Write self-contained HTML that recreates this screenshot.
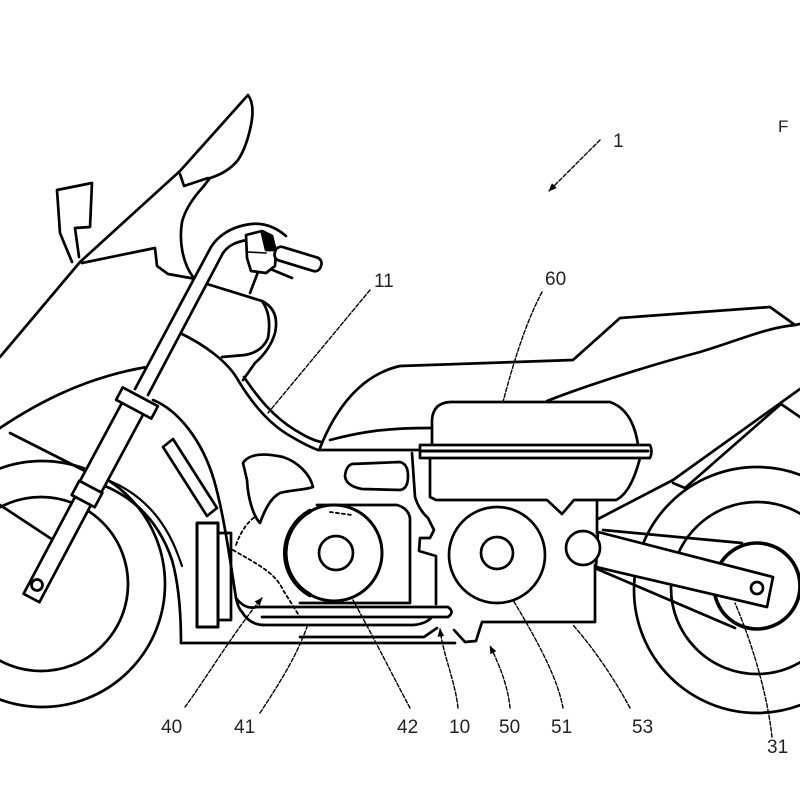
<!DOCTYPE html>
<html><head><meta charset="utf-8">
<style>html,body{margin:0;padding:0;background:#fff}svg{display:block}</style>
</head>
<body>
<svg xmlns="http://www.w3.org/2000/svg" width="800" height="800" viewBox="0 0 800 800">
<defs>
<marker id="ah" viewBox="0 0 10 10" refX="9" refY="5" markerWidth="6" markerHeight="6" orient="auto"><path d="M0,1 L10,5 L0,9 Z" fill="#000"/></marker>
</defs>
<rect width="800" height="800" fill="#fff"/>
<g fill="none" stroke="#000" stroke-width="2.7" stroke-linejoin="round" stroke-linecap="round">
<!-- rear wheel -->
<circle cx="757" cy="590" r="123"/>
<circle cx="757" cy="588" r="86"/>
<circle cx="757" cy="586" r="43" stroke-width="3.6"/>
<!-- front wheel -->
<circle cx="42" cy="584" r="123"/>
<circle cx="41" cy="584" r="87"/>
<path d="M0,505 L53,540"/>

<!-- windscreen & fairing -->
<path d="M80,262 L180,171 L248,95 C254,103 253,115 251,125 C248,140 244,151 238,160 C230,170 220,175 210,178 L203,187 C193,198 185,210 182,222 C179,240 182,262 193,277"/>
<path d="M180,174 L184,186 L208,178"/>
<path d="M82,263 L155,248 L157,266 L168,274 L196,279"/>
<path d="M72,262 L60,233 L57,190 L92,183 L90,227 L75,228 L79,257"/>
<path d="M80,262 L0,357"/>
<path d="M0,428 C30,408 80,378 147,367"/>
<path d="M10,433 L87,472"/>

<!-- front body -->
<path d="M153,400 C178,410 202,440 214,480 C224,515 230,560 236,598 Q238,608 242,612"/>
<path d="M105,486 C138,500 160,525 172,560 C179,585 181,615 181,643"/>
<path d="M110,481 C143,495 165,520 178,555 C180,560 181,563 182,566" stroke-width="2.2"/>
<path d="M163,447 L173,439 L217,508 L207,516 Z"/>
<rect x="197" y="523" width="21" height="104" stroke-width="3"/>
<rect x="218" y="533" width="13" height="87"/>

<!-- frame 10 -->
<path d="M243,463 C248,455 260,452 283,457 C298,462 310,474 313,487 C305,490 290,490 280,493 C270,498 264,512 260,523 C254,517 248,500 247,480 Z"/>
<path d="M352,464 L400,462 Q408,464 408,476 Q408,489 400,490 L362,489 Q346,486 345,476 Q346,466 352,464 Z"/>
<path d="M318,450 L418,450"/>
<path d="M412,453 L415,497 Q419,510 428,518 L434,530 L430,538 L420,538 L419,551 L436,556 L436,604"/>
<path d="M317,505 L397,505 Q408,508 410,518 L410,603 L300,603"/>
<circle cx="334" cy="553" r="48" fill="#fff" stroke-width="3"/>
<path d="M310,511 A48,48 0 0 0 310,595" stroke-width="4.5"/>
<circle cx="336" cy="553" r="17"/>
<path d="M257,607 L448,607 Q455,612 448,617 L262,617"/>
<path d="M262,625 L413,625 Q426,624 432,617"/>
<path d="M300,637 L424,637 L437,628"/>
<path d="M181,643 L455,643"/>
<path d="M236,598 Q245,610 257,607"/>
<path d="M242,612 Q250,625 264,625"/>
<path d="M236,545 Q243,525 256,516" stroke-dasharray="3 3" stroke-width="1.8"/>
<path d="M233,550 C255,563 275,572 283,590 L300,617" stroke-dasharray="3 3" stroke-width="1.8"/>
<path d="M330,512 L352,515" stroke-dasharray="3 3" stroke-width="1.8"/>

<!-- line 11 double -->
<path d="M180,333 C205,345 228,362 238,380 C250,400 268,424 292,437 C302,443 310,447 318,450"/>
<path d="M244,377 C256,395 272,416 295,430 C305,436 312,440 321,442"/>

<!-- seat -->
<path d="M320,448 C335,410 360,375 400,366 L573,360 L620,318 L770,307 L795,325 L800,324"/>
<path d="M547,401 C580,388 640,368 700,352 C740,340 765,328 795,325"/>
<path d="M330,440 C360,432 385,428 430,428"/>

<!-- rear frame -->
<path d="M598,519 L673,480 L800,389"/>
<path d="M673,483 L685,488 L781,404 L800,417"/>

<!-- box 60 -->
<path d="M432,445 L432,420 Q433,403 450,402 L610,402 Q633,410 638,445" fill="#fff"/>
<path d="M420,445 L650,445 Q653,451 650,458 L420,458 Z" fill="#fff"/>
<path d="M422,451 L648,451" stroke-width="3"/>
<path d="M430,458 L430,497 L436,500 L547,500 L562,514 L574,500 L616,500 Q631,493 640,458"/>

<!-- housing 50 -->
<path d="M597,500 L597,533"/>
<path d="M595,565 L595,622 L482,622 L476,641 L465,642 L454,630"/>
<circle cx="497" cy="555" r="48" fill="#fff"/>
<circle cx="497" cy="553" r="16"/>

<!-- chain & swingarm -->
<path d="M603,530 L742,543"/>
<path d="M597,569 L735,628"/>
<path d="M598,532 L773,577 L767,607 L596,567 Z" fill="#fff"/>
<circle cx="757" cy="588" r="6"/>
<circle cx="583" cy="548" r="17" fill="#fff"/>

<!-- fork -->
<path d="M135,389 L211,247 L223,253 L148,395 Z" fill="#fff" stroke="none"/>
<path d="M135,389 L211,247"/>
<path d="M223,253 L148,395"/>
<path d="M124,399 L80,481 L101,493 L145,411 Z" fill="#fff"/>
<path d="M75.6,495.8 L91.4,504.2 L39.4,602.2 L23.6,593.8 Z" fill="#fff"/>
<circle cx="37" cy="585" r="5.5"/>
<path d="M122.7,387.4 L157.9,406.2 L151.3,418.6 L116.1,399.8 Z" fill="#fff"/>
<path d="M79.3,480.8 L102.3,493 L94.7,507.2 L71.7,495 Z" fill="#fff"/>

<!-- handlebar -->
<path d="M211,247 C218,236 230,228 245,225 C258,222 272,224 286,236"/>
<path d="M223,253 C228,246 235,242 247,240"/>
<path d="M207,284 L262,301 Q280,310 275,333 Q270,350 255,363 L243,380"/>
<path d="M262,301 Q272,315 268,338 Q262,352 245,355 L222,357"/>
<path d="M258,272 L250,293"/>
<path d="M268,268 L292,278"/>
<path d="M246,235 L262,231 L272,236 L276,252 L275,266 L266,273 L251,271 L247,258 Z" fill="#fff"/>
<path d="M262,233 L272,237 L274,250 L266,250 Z" fill="#000"/>
<path d="M248,252 L266,253" stroke-width="1.6"/>
<rect x="274" y="252" width="48" height="14" rx="6" transform="rotate(17 298 259)" fill="#fff"/>
</g>

<!-- leaders -->
<g fill="none" stroke="#000" stroke-width="1.4" stroke-dasharray="4 2" stroke-linecap="round">
<path d="M600,140 L549,191" marker-end="url(#ah)"/>
<path d="M370,290 L268,413"/>
<path d="M542,292 C530,315 518,345 503,402"/>
<path d="M185,707 C205,680 235,630 262,598" marker-end="url(#ah)"/>
<path d="M260,713 C275,690 295,660 307,627"/>
<path d="M410,708 C395,680 375,640 353,600"/>
<path d="M458,708 C455,680 443,655 440,629" marker-end="url(#ah)"/>
<path d="M510,708 C508,685 498,662 490,646" marker-end="url(#ah)"/>
<path d="M563,708 C558,680 540,645 513,600"/>
<path d="M630,708 C615,680 595,650 573,625"/>
<path d="M772,737 C768,700 755,650 735,603"/>
</g>

<!-- labels -->
<g font-family="'Liberation Sans', sans-serif" font-size="19" fill="#222">
<text x="613" y="147">1</text>
<text x="778" y="132" font-size="17">F</text>
<text x="374" y="287">11</text>
<text x="545" y="285">60</text>
<text x="161" y="733">40</text>
<text x="234" y="733">41</text>
<text x="397" y="733">42</text>
<text x="449" y="733">10</text>
<text x="499" y="733">50</text>
<text x="551" y="733">51</text>
<text x="632" y="733">53</text>
<text x="767" y="753">31</text>
</g>
</svg>
</body></html>
